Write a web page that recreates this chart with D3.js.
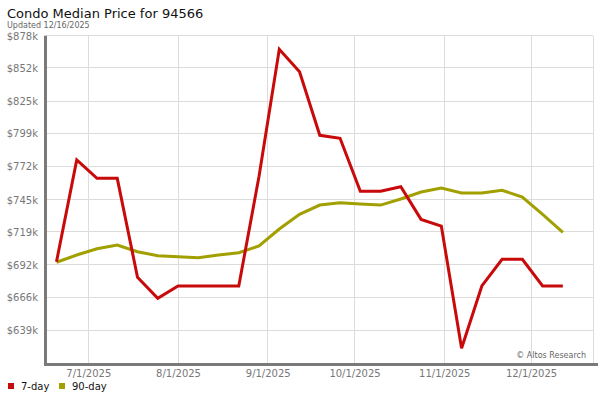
<!DOCTYPE html>
<html>
<head>
<meta charset="utf-8">
<script src="https://cdn.jsdelivr.net/npm/d3@7"></script>
<style>
  html, body { margin: 0; padding: 0; background: #fff; }
  svg { display: block; }
  text { font-family: "DejaVu Sans", Verdana, sans-serif; }
</style>
</head>
<body>
<svg id="chart" width="600" height="400"></svg>
<script>
// ---- data ----
const dates = ["2025-06-20","2025-06-27","2025-07-04","2025-07-11","2025-07-18","2025-07-25",
  "2025-08-01","2025-08-08","2025-08-15","2025-08-22","2025-08-29","2025-09-05","2025-09-12",
  "2025-09-19","2025-09-26","2025-10-03","2025-10-10","2025-10-17","2025-10-24","2025-10-31",
  "2025-11-07","2025-11-14","2025-11-21","2025-11-28","2025-12-05","2025-12-12"];
const sevenDay = [694.6, 777.2, 762.3, 762.3, 682, 665, 675, 675, 675, 675, 764, 867, 848.8,
  797.2, 794.8, 751.8, 751.8, 755.5, 729, 723.6, 624.4, 675, 696.6, 696.6, 675, 675];
const ninetyDay = [694.2, 700.1, 705.2, 708.2, 702.8, 699.5, 698.7, 697.9, 700.1, 702, 707.4, 721.2, 733.1,
  740.6, 742.5, 741.5, 740.6, 745.5, 751.2, 754.4, 750.4, 750.4, 752.6, 747.1, 733.1, 718.5];
const yTickValues = [639, 666, 692, 719, 745, 772, 799, 825, 852, 878];
const yTickLabels = ["$639k","$666k","$692k","$719k","$745k","$772k","$799k","$825k","$852k","$878k"];
const xTickDates = ["2025-07-01","2025-08-01","2025-09-01","2025-10-01","2025-11-01","2025-12-01"];
const xTickLabels = ["7/1/2025","8/1/2025","9/1/2025","10/1/2025","11/1/2025","12/1/2025"];
const seriesNames = ["7-day", "90-day"];
const seriesColors = ["#c80a0a", "#a29f00"];

(function () {
const parse = d3.timeParse("%Y-%m-%d");
const svg = d3.select("#chart");

const pL = 46, pR = 593, pT = 35.7, pB = 363;
const x = d3.scaleTime()
  .domain([new Date(2025, 5, 16, 9), new Date(2025, 11, 22, 10)])
  .range([pL, pR]);
const y = d3.scaleLinear().domain([612.5, 878]).range([pB, pT]);

// title
svg.append("text").attr("x", 7).attr("y", 18).attr("font-size", 13).attr("fill", "#111")
  .text("Condo Median Price for 94566");
svg.append("text").attr("x", 7).attr("y", 28).attr("font-size", 8).attr("fill", "#666")
  .text("Updated 12/16/2025");

// grid
const grid = svg.append("g").attr("stroke", "#dcdcdc").attr("stroke-width", 1).attr("shape-rendering", "crispEdges");
yTickValues.forEach(v => {
  grid.append("line").attr("x1", pL).attr("x2", pR).attr("y1", y(v)).attr("y2", y(v));
});
xTickDates.forEach(d => {
  const xx = x(parse(d));
  grid.append("line").attr("x1", xx).attr("x2", xx).attr("y1", pT).attr("y2", pB);
});
grid.append("line").attr("x1", pR).attr("x2", pR).attr("y1", pT).attr("y2", pB);

// y axis labels
const yAxis = d3.axisLeft(y).tickValues(yTickValues).tickSize(0).tickPadding(0)
  .tickFormat((d, i) => yTickLabels[i]);
const gy = svg.append("g").attr("transform", "translate(38,0)").call(yAxis);
gy.select(".domain").remove();
gy.selectAll("text").attr("font-size", 10).attr("fill", "#777")
  .attr("font-family", "DejaVu Sans, sans-serif").attr("dy", "0.35em");

// x axis labels
const xAxis = d3.axisBottom(x).tickValues(xTickDates.map(parse)).tickSize(0).tickPadding(0)
  .tickFormat((d, i) => xTickLabels[i]);
const gx = svg.append("g").attr("transform", "translate(0,369)").call(xAxis);
gx.select(".domain").remove();
gx.selectAll("text").attr("font-size", 10).attr("fill", "#777")
  .attr("font-family", "DejaVu Sans, sans-serif").attr("dy", "0.75em");

// axis bars
svg.append("rect").attr("x", 44).attr("y", pT).attr("width", 3).attr("height", pB - pT + 3).attr("fill", "#7a7a7a");
svg.append("rect").attr("x", 44).attr("y", pB).attr("width", 554).attr("height", 3).attr("fill", "#7a7a7a");

// watermark
svg.append("text").attr("x", 586).attr("y", 357.5).attr("text-anchor", "end")
  .attr("font-size", 8).attr("fill", "#666").text("\u00a9 Altos Research");

// lines
const line = d3.line().x((d, i) => x(parse(dates[i]))).y(d => y(d));
[ninetyDay, sevenDay].forEach((s, k) => {
  svg.append("path").datum(s).attr("fill", "none")
    .attr("stroke", k === 0 ? seriesColors[1] : seriesColors[0])
    .attr("stroke-width", 3).attr("stroke-linejoin", "miter").attr("d", line);
});

// legend
const leg = svg.append("g");
[0, 1].forEach(i => {
  const lx = i === 0 ? 8 : 59;
  leg.append("rect").attr("x", lx).attr("y", 383).attr("width", 6).attr("height", 6).attr("fill", seriesColors[i]);
  leg.append("text").attr("x", lx + 13).attr("y", 390).attr("font-size", 10).attr("fill", "#111").text(seriesNames[i]);
});
})();
</script>
</body>
</html>
